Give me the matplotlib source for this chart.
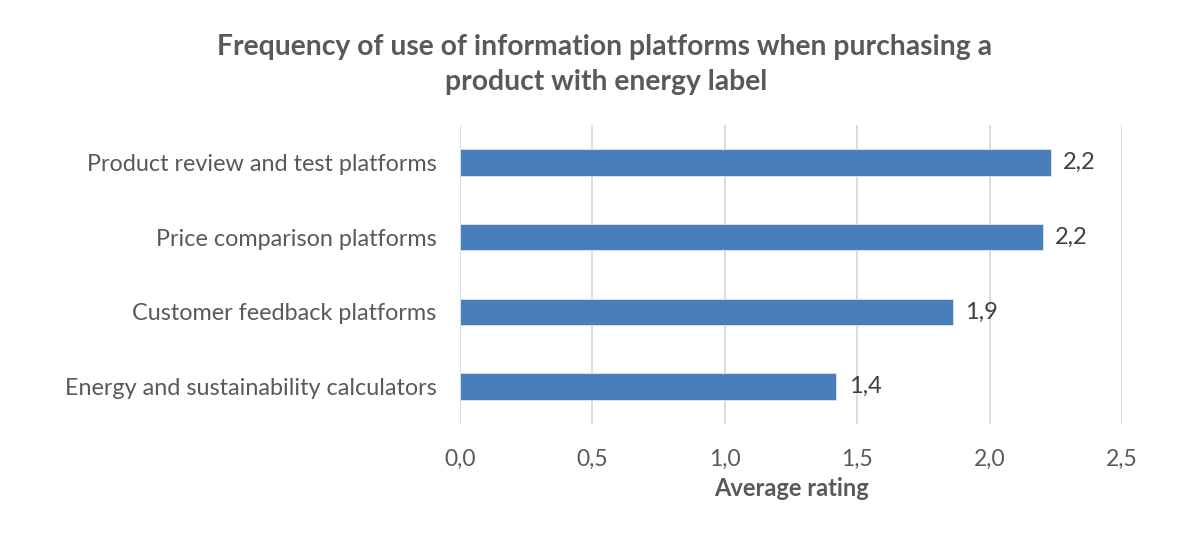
import matplotlib.pyplot as plt

plt.rcParams['font.family'] = ['Lato', 'DejaVu Sans']

categories = ['Product review and test platforms', 'Price comparison platforms',
              'Customer feedback platforms', 'Energy and sustainability calculators']
ratings = [2.23, 2.20, 1.86, 1.42]
xticks = [0.0, 0.5, 1.0, 1.5, 2.0, 2.5]

txt = '#595959'
blue = '#4A7EBB'

fig = plt.figure(figsize=(12, 5.39), dpi=100)
ax = fig.add_axes([460 / 1200, 1 - 424 / 539, 662 / 1200, 299 / 539])

y = list(range(len(categories)))[::-1]
ax.barh(y, ratings, height=0.357, color=blue, edgecolor='#dce6f2', linewidth=0.6, zorder=3)

for yi, v in zip(y, ratings):
    ax.annotate(f'{v:.1f}'.replace('.', ','), (v, yi), xytext=(9, 0),
                textcoords='offset points', va='center', ha='left',
                fontsize=17, color='#404040')

ax.set_xlim(0, 2.5)
ax.set_ylim(-0.5, len(categories) - 0.5)
ax.set_xticks(xticks)
ax.set_xticklabels([f'{t:.1f}'.replace('.', ',') for t in xticks])
ax.set_yticks(y)
ax.set_yticklabels(categories)
ax.tick_params(axis='x', length=0, pad=18, labelsize=16.5, labelcolor=txt)
ax.tick_params(axis='y', length=0, pad=17, labelsize=16.8, labelcolor=txt)
ax.grid(axis='x', color='#d9d9d9', linewidth=1.3, zorder=0)
for s in ax.spines.values():
    s.set_visible(False)

ax.set_xlabel('Average rating', fontsize=17, fontweight='bold', color=txt, labelpad=5)

fig.text(0.504, 1 - 47 / 539, 'Frequency of use of information platforms when purchasing a',
         ha='center', va='center', fontsize=20.3, fontweight='bold', color=txt)
fig.text(0.505, 1 - 82 / 539, 'product with energy label',
         ha='center', va='center', fontsize=20.3, fontweight='bold', color=txt)

fig.savefig('out.png', dpi=100)
